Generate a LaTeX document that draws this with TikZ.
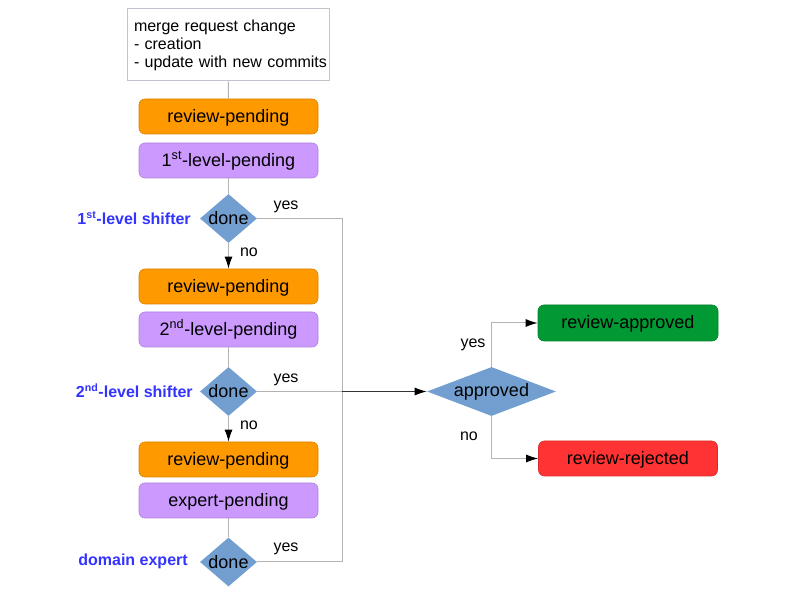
\documentclass[tikz,border=0pt]{standalone}
\usepackage{fontspec}
\setmainfont{Liberation Sans}
\usetikzlibrary{shapes.geometric,arrows.meta}
\definecolor{orangebox}{HTML}{FF9900}
\definecolor{purplebox}{HTML}{CC99FF}
\definecolor{diafill}{HTML}{729FCF}
\definecolor{greenbox}{HTML}{009933}
\definecolor{redbox}{HTML}{FF3333}
\definecolor{linegray}{HTML}{B3B3B3}
\definecolor{darkline}{HTML}{333333}
\definecolor{labelblue}{HTML}{3333FF}
\definecolor{boxborder}{HTML}{C0C4CC}
\begin{document}
\begin{tikzpicture}[x=0.75pt,y=-0.75pt,
  statebox/.style={rounded corners=4.5pt, minimum width=134.25pt, minimum height=26.25pt,
    inner sep=0pt, text height=9pt, text depth=0pt,
    font=\fontsize{13.5}{16}\selectfont, draw=#1!85!black, fill=#1, line width=0.5pt},
  decision/.style={diamond, fill=diafill, draw=none, inner sep=0pt,
    font=\fontsize{13.5}{16}\selectfont},
  infobox/.style={draw=boxborder, fill=white, line width=0.75pt, text width=141pt, inner sep=5.25pt,
    minimum height=54pt, align=left, font=\fontsize{12}{13.5}\selectfont},
  lbl/.style={font=\fontsize{12}{14}\selectfont, inner sep=0pt},
  sidelbl/.style={font=\fontsize{12}{14}\selectfont\bfseries, text=labelblue, inner sep=0pt, anchor=east},
  conn/.style={draw=linegray, line width=0.75pt},
  darkconn/.style={draw=darkline, line width=0.75pt},
  arr/.style={-{Latex[length=9pt,width=6pt,color=black]}}
]
\useasboundingbox (0,0) rectangle (794,595);

\node[infobox] (mr) at (228,45) {\mbox{merge request change}\\\mbox{- creation}\\\mbox{- update with new commits}};

\node[statebox=orangebox] (rp1) at (228.5,116.5) {review-pending};
\node[statebox=purplebox] (lp1) at (228.5,160.5) {1\textsuperscript{st}-level-pending};
\node[decision, aspect=1.16, minimum width=42.75pt, minimum height=36.75pt] (d1) at (228.5,218.5) {done};

\node[statebox=orangebox] (rp2) at (228.5,286.5) {review-pending};
\node[statebox=purplebox] (lp2) at (228.5,329.5) {2\textsuperscript{nd}-level-pending};
\node[decision, aspect=1.16, minimum width=42.75pt, minimum height=36.75pt] (d2) at (228.5,391.5) {done};

\node[statebox=orangebox] (rp3) at (228.5,459.5) {review-pending};
\node[statebox=purplebox] (ep) at (228.5,500.5) {expert-pending};
\node[decision, aspect=1.16, minimum width=42.75pt, minimum height=36.75pt] (d3) at (228.5,562) {done};

\node[decision, aspect=2.63, minimum width=96.75pt, minimum height=36.75pt] (ap) at (491.5,391.5) {approved};
\node[statebox=greenbox, minimum width=135pt, minimum height=27pt] (ra) at (628,323) {review-approved};
\node[statebox=redbox] (rr) at (628,458.5) {review-rejected};

\node[sidelbl] (s1) at (191,218) {1\textsuperscript{st}-level shifter};
\node[sidelbl] (s2) at (193,391) {2\textsuperscript{nd}-level shifter};
\node[sidelbl] (s3) at (188,561) {domain expert};

\node[lbl] (y1) at (286,207) {yes};
\node[lbl] (n1) at (249,252) {no};
\node[lbl] (y2) at (286,380) {yes};
\node[lbl] (n2) at (249,425) {no};
\node[lbl] (y3) at (286,549) {yes};
\node[lbl] (y4) at (473,345) {yes};
\node[lbl] (n4) at (469,436) {no};

\coordinate (j1) at (342,218.5);
\coordinate (j2) at (342,391.5);
\coordinate (j3) at (342,562);

\draw[conn] (mr) -- (rp1);
\draw[conn] (lp1) -- (d1);
\draw[conn,arr] (d1) -- (rp2);
\draw[conn] (lp2) -- (d2);
\draw[conn,arr] (d2) -- (rp3);
\draw[conn] (ep) -- (d3);
\draw[conn] (d1.east) -- (j1) -- (j3) -- (d3.east);
\draw[conn] (d2.east) -- (j2);
\draw[darkconn,arr] (j2) -- (ap.west);
\draw[conn,arr] (ap.north) |- (ra.west);
\draw[conn,arr] (ap.south) |- (rr.west);
\end{tikzpicture}
\end{document}
